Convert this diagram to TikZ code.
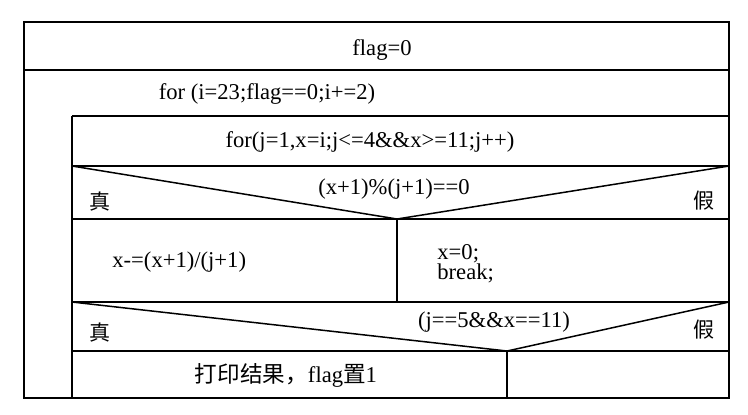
\documentclass[tikz,border=0pt]{standalone}
\usepackage{fontspec}
\setmainfont{Liberation Serif}
\newfontfamily\cjk{Noto Sans CJK SC}
\tikzset{
    nsline/.style={line width=0.75pt, line join=miter},
    code/.style={inner sep=0pt, anchor=base, font=\fontsize{11.3}{13}\selectfont},
    truthmark/.style={inner sep=0pt, font=\fontsize{10.5}{12}\selectfont\cjk}
}

\begin{document}
\begin{tikzpicture}[x=0.5pt, y=-0.5pt]
    \useasboundingbox (0,0) rectangle (748,414);

    % outer frame and loop bodies
    \draw[nsline] (24,22) rectangle (729,398);
    \draw[nsline] (24,70) -- (729,70);
    \draw[nsline] (72,116) -- (729,116);
    \draw[nsline] (72,116) -- (72,398);
    \draw[nsline] (72,166) -- (729,166);

    % first decision
    \draw[nsline] (72,166) -- (397,219) -- (729,166);
    \draw[nsline] (72,219) -- (729,219);
    \draw[nsline] (397,219) -- (397,302);
    \draw[nsline] (72,302) -- (729,302);

    % second decision
    \draw[nsline] (72,302) -- (507,351) -- (729,302);
    \draw[nsline] (72,351) -- (729,351);
    \draw[nsline] (507,351) -- (507,398);

    \node[code] (init) at (382,55) {flag=0};
    \node[code] (outer) at (267,99) {for (i=23;flag==0;i+=2)};
    \node[code] (inner) at (370,147) {for(j=1,x=i;j<=4\&\&x>=11;j++)};
    \node[code] (cond1) at (394,194) {(x+1)\%(j+1)==0};
    \node[truthmark] (yes1) at (100,201) {真};
    \node[truthmark] (no1) at (704,201) {假};
    \node[code, anchor=base west] (sub) at (112,267) {x-=(x+1)/(j+1)};
    \node[code, anchor=base west] (stop) at (437,259) {x=0;};
    \node[code, anchor=base west] (brk) at (437,279) {break;};
    \node[code] (cond2) at (494,327) {(j==5\&\&x==11)};
    \node[truthmark] (yes2) at (100,332) {真};
    \node[truthmark] (no2) at (704,330) {假};
    \node[code, anchor=center] (print) at (286,375) {{\cjk 打印结果，}flag{\cjk 置}1};
\end{tikzpicture}
\end{document}
